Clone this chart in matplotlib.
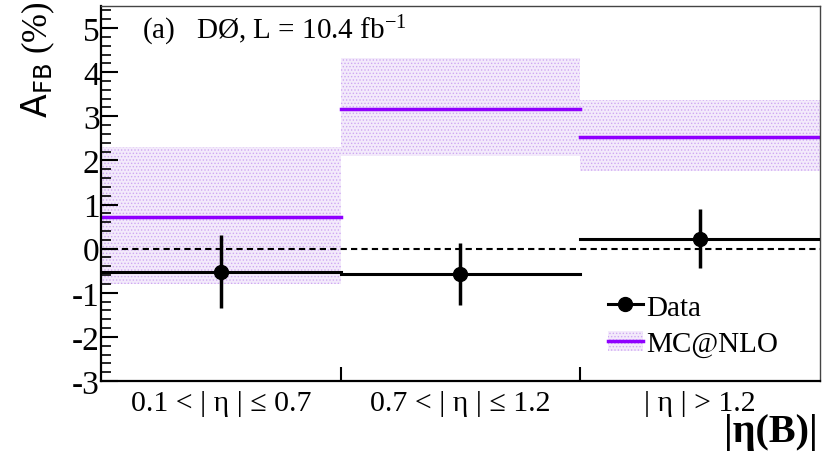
import matplotlib
matplotlib.use("Agg")
import matplotlib.pyplot as plt
from matplotlib.ticker import MultipleLocator, FixedLocator
from matplotlib.lines import Line2D
from matplotlib.patches import Patch
import numpy as np

plt.rcParams['font.family'] = ['Liberation Serif', 'DejaVu Serif']
plt.rcParams['mathtext.fontset'] = 'custom'
plt.rcParams['mathtext.rm'] = 'Liberation Serif'
plt.rcParams['mathtext.it'] = 'Liberation Serif:italic'
plt.rcParams['mathtext.sf'] = 'DejaVu Sans'
plt.rcParams['hatch.linewidth'] = 0.6

bin_labels = ["0.1 < | \u03b7 | \u2264 0.7", "0.7 < | \u03b7 | \u2264 1.2", "| \u03b7 | > 1.2"]
data_val = [-0.52, -0.57, 0.23]
data_err = [0.83, 0.70, 0.67]
mc_val = [0.72, 3.17, 2.54]
mc_lo = [-0.80, 2.09, 1.77]
mc_hi = [2.30, 4.33, 3.38]

fig = plt.figure(figsize=(8.29, 4.52), dpi=100)
ax = fig.add_axes([101/829, 1-382/452, (820-101)/829, (382-7)/452])

edges = np.arange(len(bin_labels) + 1)
centers = edges[:-1] + 0.5
purple = '#8f00ff'
band_face = '#f3eafb'
band_hatch = '#cfa8f2'

for i in range(len(bin_labels)):
    ax.fill_between([edges[i], edges[i+1]], mc_lo[i], mc_hi[i], facecolor=band_face,
                    edgecolor=band_hatch, hatch='.....', linewidth=0, zorder=1)
    ax.plot([edges[i], edges[i+1]], [mc_val[i], mc_val[i]], color=purple, lw=2.5, zorder=2)
    ax.plot([edges[i], edges[i+1]], [data_val[i], data_val[i]], color='black', lw=2.2, zorder=3)

ax.errorbar(centers, data_val, yerr=data_err, fmt='o', color='black', ms=10,
            elinewidth=2.5, capsize=0, zorder=4)
ax.axhline(0, color='black', ls=(0, (3, 2)), lw=1.5, zorder=2.5)

ax.set_xlim(0, 3)
ax.set_ylim(-3, 5.5)
ax.yaxis.set_minor_locator(MultipleLocator(0.2))
ax.set_yticks(range(-3, 6))
ax.set_yticklabels([str(v) for v in range(-3, 6)])
ax.tick_params(axis='y', which='major', direction='in', length=12, width=1.5, labelsize=24, pad=1)
ax.tick_params(axis='y', which='minor', direction='in', length=7, width=1.2)

ax.xaxis.set_major_locator(FixedLocator([1, 2]))
ax.tick_params(axis='x', which='major', direction='in', length=10, width=1.5, labelbottom=False)
for c, lab in zip(centers, bin_labels):
    ax.text(c, -3.2, lab, ha='center', va='top', fontsize=21.5)

for side in ['left', 'bottom']:
    ax.spines[side].set_linewidth(1.6)
for side in ['top', 'right']:
    ax.spines[side].set_linewidth(1.0)
    ax.spines[side].set_color('#444444')

ax.text(0.17, 4.95, r"(a)   DØ, L = 10.4 fb$^{\mathregular{-1}}$", fontsize=21, va='center', ha='left')

fig.text(38/829, 1-60/452, r"$\mathsf{A}_{\mathsf{FB}}$ (%)", rotation=90, fontsize=25,
         ha='center', va='center')

fig.text(818/829, 1-433/452, "|\u03b7(B)|", fontsize=29, fontweight='bold', ha='right', va='center')

h_data = Line2D([], [], color='black', marker='o', ms=10, lw=2.2)
h_mc = (Patch(facecolor=band_face, edgecolor=band_hatch, hatch='.....', linewidth=0),
        Line2D([], [], color=purple, lw=2.5))
leg = ax.legend([h_data, h_mc], ['Data', 'MC@NLO'], loc='center left',
                bbox_to_anchor=(0.705, 0.147), frameon=False, fontsize=21,
                handlelength=1.2, handletextpad=0.1, labelspacing=0.35,
                borderpad=0, borderaxespad=0)

fig.savefig('out.png', dpi=100)
